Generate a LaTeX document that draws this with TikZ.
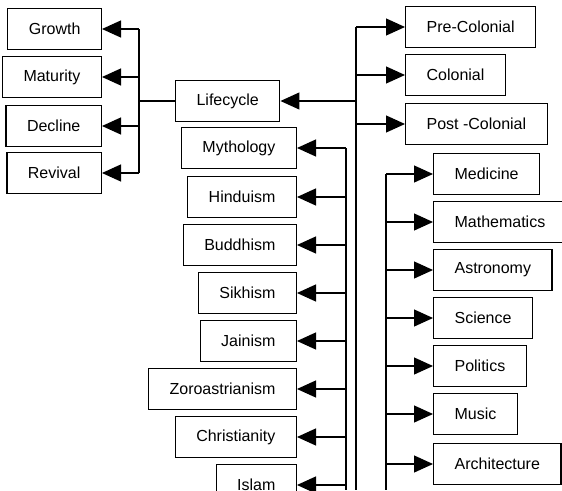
\documentclass[tikz,border=0pt]{standalone}
\usepackage{fontspec}
\setmainfont{Liberation Sans}
\usetikzlibrary{arrows.meta}
\begin{document}
\begin{tikzpicture}[x=1pt,y=-1pt,line width=1.2pt,
    topic/.style={draw,line width=1.2pt,minimum height=41pt,inner xsep=21pt,
      font=\fontsize{16pt}{19pt}\selectfont},
    arr/.style={-{Triangle[length=19pt,width=17pt]}}]
  \useasboundingbox (0,0) rectangle (562,490);
  % the four trunks
  \coordinate (lt) at (139,29);
  \coordinate (rl) at (346,148);
  \coordinate (mt) at (356,27);
  \coordinate (sc) at (386,174);
  \coordinate (rlb) at (346,490);
  \coordinate (mtb) at (356,490);
  \coordinate (scb) at (386,490);
  % lifecycle
  \node[topic,anchor=west] (life) at (175,101) {Lifecycle};
  \node[topic,anchor=east] (grw) at (102,29) {Growth};
  \node[topic,anchor=east] (mat) at (102,77) {Maturity};
  \node[topic,anchor=east] (dec) at (102,126) {Decline};
  \node[topic,anchor=east] (rev) at (102,173) {Revival};
  % periods
  \node[topic,anchor=west] (pre) at (405,27) {Pre-Colonial};
  \node[topic,anchor=west] (col) at (405,75) {Colonial};
  \node[topic,anchor=west] (post) at (405,124) {Post -Colonial};
  % religions
  \foreach \n/\t/\y in {myth/Mythology/148,hin/Hinduism/197,bud/Buddhism/245,
      sik/Sikhism/293,jai/Jainism/341,zor/Zoroastrianism/389,
      chr/Christianity/437,isl/Islam/485}
    \node[topic,anchor=east] (\n) at (297,\y) {\t};
  % sciences and arts
  \foreach \n/\t/\y in {med/Medicine/174,mth/Mathematics/222,ast/Astronomy/270,
      sci/Science/318,pol/Politics/366,mus/Music/414,arc/Architecture/464}
    \node[topic,anchor=west] (\n) at (433,\y) {\t};

  \draw (lt) -- (lt |- rev);
  \draw (life) -- (lt |- life);
  \foreach \n in {grw,mat,dec,rev}
    \draw[arr] (lt |- \n) -- (\n);
  \draw (mt) -- (mtb);
  \draw[arr] (mt |- life) -- (life);
  \foreach \n in {pre,col,post}
    \draw[arr] (mt |- \n) -- (\n);
  \draw (rl) -- (rlb);
  \foreach \n in {myth,hin,bud,sik,jai,zor,chr,isl}
    \draw[arr] (rl |- \n) -- (\n);
  \draw (sc) -- (scb);
  \foreach \n in {med,mth,ast,sci,pol,mus,arc}
    \draw[arr] (sc |- \n) -- (\n);
\end{tikzpicture}
\end{document}
